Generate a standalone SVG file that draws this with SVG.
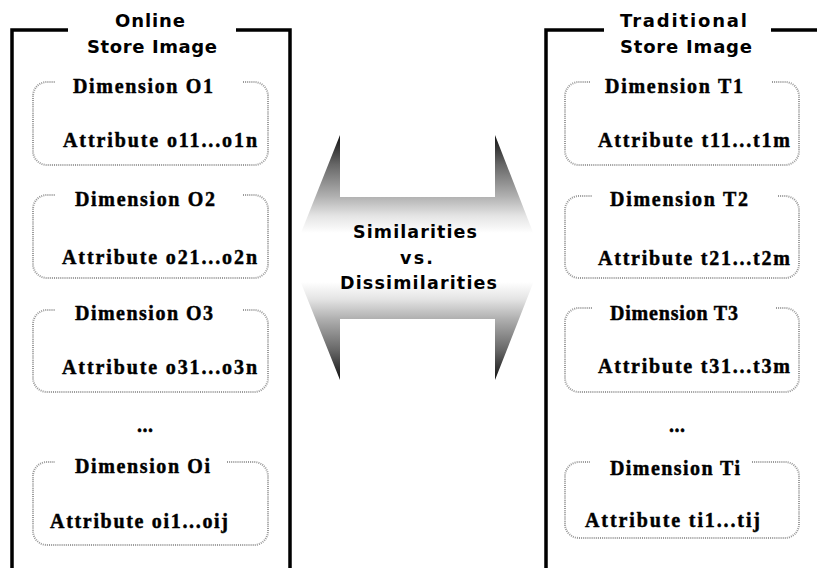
<svg xmlns="http://www.w3.org/2000/svg" width="817" height="568" viewBox="0 0 817 568">
<style>
.frame{fill:none;stroke:#000;stroke-width:3.5}
.box{fill:none;stroke:#999;stroke-width:2;stroke-dasharray:1 1.1}
.head{font-family:"DejaVu Sans","Liberation Sans",Arial,sans-serif;font-weight:bold;font-size:18px;fill:#000}
.mid{font-family:"DejaVu Sans","Liberation Sans",Arial,sans-serif;font-weight:bold;font-size:17.5px;fill:#000}
.dim{font-family:"Liberation Serif","Times New Roman",serif;font-weight:bold;font-size:20px;fill:#000;stroke:#000;stroke-width:0.45}
</style>
<defs>
<linearGradient id="arrowGrad" gradientUnits="userSpaceOnUse" x1="0" y1="135" x2="0" y2="380">
<stop offset="0" stop-color="#111"/>
<stop offset="0.12" stop-color="#666"/>
<stop offset="0.25" stop-color="#b0b0b0"/>
<stop offset="0.33" stop-color="#e4e4e4"/>
<stop offset="0.40" stop-color="#fff"/>
<stop offset="0.60" stop-color="#fff"/>
<stop offset="0.67" stop-color="#e4e4e4"/>
<stop offset="0.75" stop-color="#b0b0b0"/>
<stop offset="0.88" stop-color="#666"/>
<stop offset="1" stop-color="#111"/>
</linearGradient>
</defs>
<rect width="817" height="568" fill="#fff"/>

<g id="connectors">
<g id="comparison-arrow">
<path d="M 291 258 L 340 135 V 197 H 495 V 135 L 543 258 L 495 380 V 319 H 340 V 380 Z" fill="url(#arrowGrad)"/>
<text class="mid" x="353" y="238" textLength="124" lengthAdjust="spacing">Similarities</text>
<text class="mid" x="400" y="264" textLength="33" lengthAdjust="spacing">vs.</text>
<text class="mid" x="340" y="289" textLength="157" lengthAdjust="spacing">Dissimilarities</text>
</g>
</g>

<g id="online-store">
<path class="frame" d="M 68 30 H 12 V 568 M 236 30 H 290 V 568"/>
<text class="head" x="115" y="27" textLength="70" lengthAdjust="spacing">Online</text>
<text class="head" x="87" y="53" textLength="130" lengthAdjust="spacing">Store Image</text>
</g>

<g id="dim-o1">
<path class="box" d="M 243 82 H 254 A 14 14 0 0 1 268 96 V 151 A 14 14 0 0 1 254 165 H 47 A 14 14 0 0 1 33 151 V 96 A 14 14 0 0 1 47 82 H 55"/>
<text class="dim" x="73" y="93" textLength="140" lengthAdjust="spacing">Dimension O1</text>
<text class="dim" x="63" y="147" textLength="194" lengthAdjust="spacing">Attribute o11...o1n</text>
</g>
<g id="dim-o2">
<path class="box" d="M 243 195 H 254 A 14 14 0 0 1 268 209 V 264 A 14 14 0 0 1 254 278 H 47 A 14 14 0 0 1 33 264 V 209 A 14 14 0 0 1 47 195 H 55"/>
<text class="dim" x="75" y="206" textLength="140" lengthAdjust="spacing">Dimension O2</text>
<text class="dim" x="62" y="264" textLength="195" lengthAdjust="spacing">Attribute o21...o2n</text>
</g>
<g id="dim-o3">
<path class="box" d="M 243 310 H 254 A 14 14 0 0 1 268 324 V 378 A 14 14 0 0 1 254 392 H 47 A 14 14 0 0 1 33 378 V 324 A 14 14 0 0 1 47 310 H 55"/>
<text class="dim" x="75" y="320" textLength="138" lengthAdjust="spacing">Dimension O3</text>
<text class="dim" x="62" y="374" textLength="195" lengthAdjust="spacing">Attribute o31...o3n</text>
</g>
<g id="ellipsis-o">
<text class="dim" x="137" y="432" textLength="16" lengthAdjust="spacing">...</text>
</g>
<g id="dim-oi">
<path class="box" d="M 227 462 H 254 A 14 14 0 0 1 268 476 V 531 A 14 14 0 0 1 254 545 H 47 A 14 14 0 0 1 33 531 V 476 A 14 14 0 0 1 47 462 H 55"/>
<text class="dim" x="75" y="473" textLength="135" lengthAdjust="spacing">Dimension Oi</text>
<text class="dim" x="50" y="528" textLength="178" lengthAdjust="spacing">Attribute oi1...oij</text>
</g>

<g id="traditional-store">
<path class="frame" d="M 604 30 H 546 V 568 M 771 30 H 817"/>
<text class="head" x="620" y="27" textLength="127" lengthAdjust="spacing">Traditional</text>
<text class="head" x="620" y="53" textLength="132" lengthAdjust="spacing">Store Image</text>
</g>

<g id="dim-t1">
<path class="box" d="M 772 82 H 785 A 14 14 0 0 1 799 96 V 151 A 14 14 0 0 1 785 165 H 579 A 14 14 0 0 1 565 151 V 96 A 14 14 0 0 1 579 82 H 590"/>
<text class="dim" x="605" y="93" textLength="138" lengthAdjust="spacing">Dimension T1</text>
<text class="dim" x="598" y="147" textLength="192" lengthAdjust="spacing">Attribute t11...t1m</text>
</g>
<g id="dim-t2">
<path class="box" d="M 778 196 H 785 A 14 14 0 0 1 799 210 V 264 A 14 14 0 0 1 785 278 H 579 A 14 14 0 0 1 565 264 V 210 A 14 14 0 0 1 579 196 H 592"/>
<text class="dim" x="610" y="206" textLength="138" lengthAdjust="spacing">Dimension T2</text>
<text class="dim" x="598" y="265" textLength="192" lengthAdjust="spacing">Attribute t21...t2m</text>
</g>
<g id="dim-t3">
<path class="box" d="M 776 308 H 785 A 14 14 0 0 1 799 322 V 378 A 14 14 0 0 1 785 392 H 579 A 14 14 0 0 1 565 378 V 322 A 14 14 0 0 1 579 308 H 592"/>
<text class="dim" x="610" y="320" textLength="128" lengthAdjust="spacing">Dimension T3</text>
<text class="dim" x="598" y="373" textLength="192" lengthAdjust="spacing">Attribute t31...t3m</text>
</g>
<g id="ellipsis-t">
<text class="dim" x="669" y="432" textLength="16" lengthAdjust="spacing">...</text>
</g>
<g id="dim-ti">
<path class="box" d="M 752 462 H 785 A 14 14 0 0 1 799 476 V 524 A 14 14 0 0 1 785 538 H 579 A 14 14 0 0 1 565 524 V 476 A 14 14 0 0 1 579 462 H 590"/>
<text class="dim" x="610" y="475" textLength="130" lengthAdjust="spacing">Dimension Ti</text>
<text class="dim" x="585" y="527" textLength="175" lengthAdjust="spacing">Attribute ti1...tij</text>
</g>
</svg>
